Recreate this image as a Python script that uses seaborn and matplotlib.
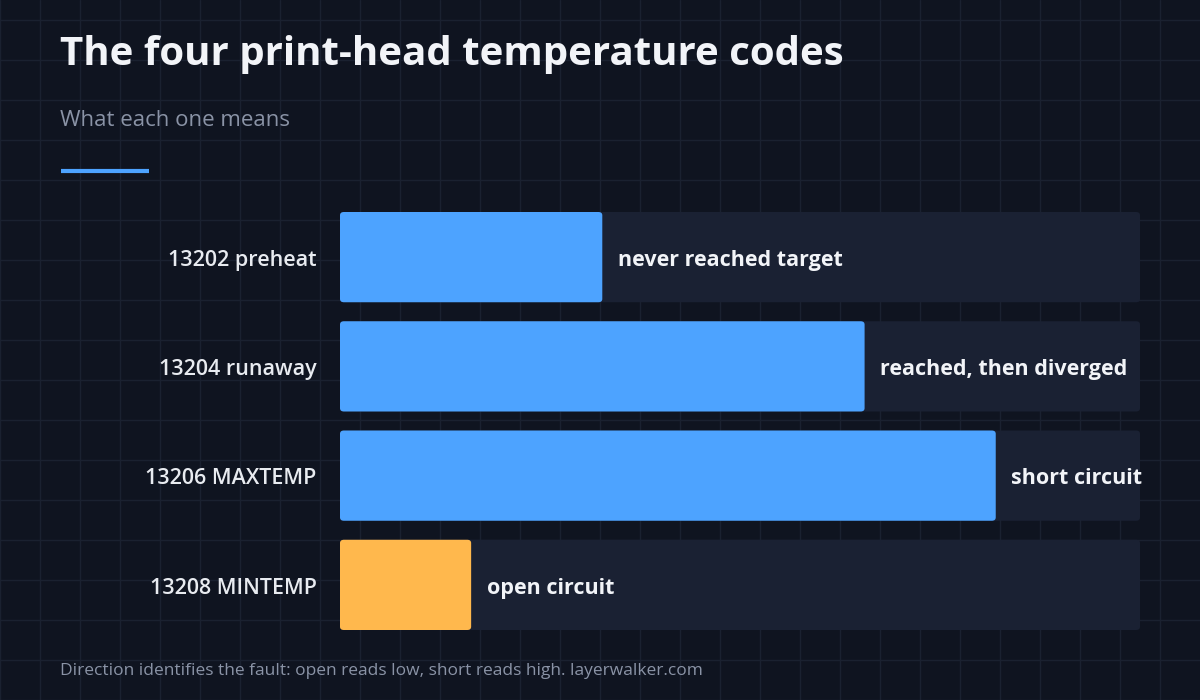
import matplotlib
matplotlib.use("Agg")
import matplotlib.pyplot as plt
import seaborn as sns
import pandas as pd
from matplotlib.patches import FancyBboxPatch
from matplotlib.lines import Line2D

codes = ["13202 preheat", "13204 runaway", "13206 MAXTEMP", "13208 MINTEMP"]
values = [2, 4, 5, 1]
notes = ["never reached target", "reached, then diverged", "short circuit", "open circuit"]
colors = ["#4da3ff", "#4da3ff", "#4da3ff", "#ffb84d"]
xmax = 6.1

sns.set_theme(style="dark")
plt.rcParams['font.family'] = ['Open Sans', 'Lato', 'DejaVu Sans']

BG = "#0f1420"
fig = plt.figure(figsize=(12, 7), dpi=100, facecolor=BG)
for x in range(0, 1200, 40):
    fig.add_artist(Line2D([x/1200, x/1200], [0, 1], color="#1a2130", lw=1, zorder=0))
for y in range(0, 700, 40):
    fig.add_artist(Line2D([0, 1], [y/700, y/700], color="#1a2130", lw=1, zorder=0))

ax = fig.add_axes([340/1200, 70/700, 800/1200, 418/700])
ax.set_facecolor("none")
df = pd.DataFrame({"code": codes, "value": values})
sns.barplot(data=df, y="code", x="value", hue="code", palette=colors, legend=False,
            orient="h", width=0.826, ax=ax)
ax.set_xlim(0, xmax)
ax.set_ylim(3.413, -0.413)
h = 0.826
for i, p in enumerate(list(ax.patches)):
    p.set_visible(False)
    y0 = i - h/2
    ax.add_patch(FancyBboxPatch((0, y0), xmax, h, boxstyle="round,pad=0,rounding_size=0.03",
                                fc="#1a2133", ec="none", zorder=1))
    ax.add_patch(FancyBboxPatch((0, y0), values[i], h, boxstyle="round,pad=0,rounding_size=0.03",
                                fc=colors[i], ec="none", zorder=2))
    ax.text(values[i] + 0.12, i + 0.03, notes[i], color="#f2f4f8", fontsize=15.5, fontweight="bold",
            va="center", ha="left", zorder=3)
    ax.text(-0.18, i + 0.03, codes[i], color="#e8ebf0", fontsize=15.5, fontweight="semibold",
            va="center", ha="right", zorder=3)
ax.set_yticks([]); ax.set_xticks([])
ax.set_xlabel(""); ax.set_ylabel("")
for s in ax.spines.values():
    s.set_visible(False)

fig.text(60/1200, 1-55/700, "The four print-head temperature codes", color="#f2f4f8",
         fontsize=29, fontweight="bold", va="center")
fig.text(60/1200, 1-120/700, "What each one means", color="#8a93a6", fontsize=16, va="center")
fig.add_artist(Line2D([61/1200, 149/1200], [1-171/700]*2, color="#4da3ff", lw=3,
                      solid_capstyle="butt"))
fig.text(60/1200, 1-671/700, "Direction identifies the fault: open reads low, short reads high. layerwalker.com",
         color="#8a93a6", fontsize=12.5, va="center")

fig.savefig("out.png", dpi=100, facecolor=BG)
